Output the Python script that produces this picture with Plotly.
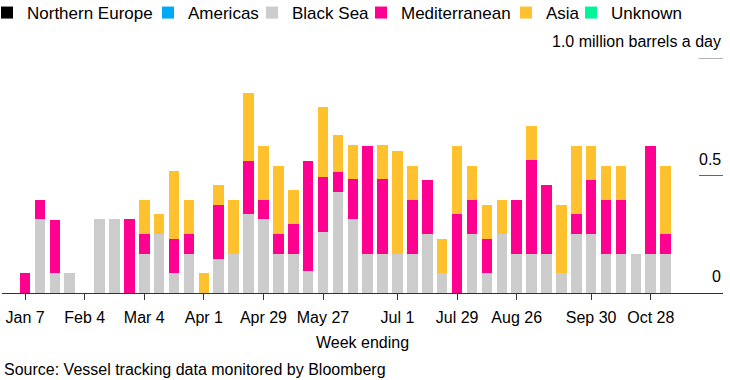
import plotly.graph_objects as go

weeks = ["Jan 7", "Jan 14", "Jan 21", "Jan 28", "Feb 4", "Feb 11", "Feb 18", "Feb 25",
         "Mar 4", "Mar 11", "Mar 18", "Mar 25", "Apr 1", "Apr 8", "Apr 15", "Apr 22",
         "Apr 29", "May 6", "May 13", "May 20", "May 27", "Jun 3", "Jun 10", "Jun 17",
         "Jun 24", "Jul 1", "Jul 8", "Jul 15", "Jul 22", "Jul 29", "Aug 5", "Aug 12",
         "Aug 19", "Aug 26", "Sep 2", "Sep 9", "Sep 16", "Sep 23", "Sep 30", "Oct 7",
         "Oct 14", "Oct 21", "Oct 28", "Nov 4"]

northern_europe = [0] * len(weeks)
americas = [0] * len(weeks)
black_sea = [0, 0.315, 0.084, 0.084, 0, 0.315, 0.315, 0, 0.165, 0.25, 0.084, 0.165, 0, 0.143,
             0.166, 0.335, 0.315, 0.165, 0.165, 0.094, 0.258, 0.43, 0.315, 0.165, 0.165, 0.165,
             0.165, 0.25, 0.084, 0, 0.25, 0.084, 0.25, 0.165, 0.165, 0.165, 0.084, 0.25, 0.25,
             0.165, 0.165, 0.165, 0.165, 0.165]
mediterranean = [0.085, 0.082, 0.226, 0, 0, 0, 0, 0.315, 0.084, 0, 0.145, 0.084, 0, 0.231,
                 0, 0.226, 0.079, 0.084, 0.129, 0.467, 0.235, 0.084, 0.170, 0.461, 0.321, 0,
                 0.230, 0.231, 0, 0.335, 0.145, 0.145, 0, 0.231, 0.401, 0.295, 0, 0.085, 0.231,
                 0.231, 0.231, 0, 0.461, 0.085]
asia = [0, 0, 0, 0, 0, 0, 0, 0, 0.148, 0.085, 0.292, 0.148, 0.084, 0.087, 0.230, 0.291, 0.230,
        0.292, 0.146, 0, 0.298, 0.157, 0.145, 0, 0.145, 0.440, 0.146, 0, 0.145, 0.289, 0.146,
        0.146, 0.146, 0, 0.146, 0, 0.291, 0.291, 0.145, 0.145, 0.145, 0, 0, 0.291]
unknown = [0] * len(weeks)

series_names = ["Northern Europe", "Americas", "Black Sea", "Mediterranean", "Asia", "Unknown"]
series_values = [northern_europe, americas, black_sea, mediterranean, asia, unknown]
series_colors = ["#000000", "#00a9f4", "#cccccc", "#ff0090", "#ffc12e", "#00f59b"]

tick_weeks = ["Jan 7", "Feb 4", "Mar 4", "Apr 1", "Apr 29", "May 27", "Jul 1", "Jul 29",
              "Aug 26", "Sep 30", "Oct 28"]
y_ticks = [0, 0.5, 1.0]
y_tick_text = ["0", "0.5", "1.0 million barrels a day"]

# layout constants (pixels)
W, H = 730, 380
ML, MR, MT, MB = 2, 7, 58, 87
plot_w = W - ML - MR
plot_h = H - MT - MB
legend_text_px = [22, 183, 287, 396, 541, 606]

FONT = "Liberation Sans, Arial, sans-serif"

fig = go.Figure()
for i, (name, vals, col) in enumerate(zip(series_names, series_values, series_colors)):
    lg = "legend" if i == 0 else f"legend{i + 1}"
    fig.add_trace(go.Bar(x=weeks, y=vals, name=name, marker_color=col,
                         marker_line_width=0, legend=lg))

legend_y = (plot_h + MT - 13) / plot_h
layout_legends = {}
for i, tx in enumerate(legend_text_px):
    key = "legend" if i == 0 else f"legend{i + 1}"
    layout_legends[key] = dict(
        x=(tx - 35 - ML) / plot_w, xanchor="left", y=legend_y, yanchor="middle",
        orientation="h", bgcolor="rgba(0,0,0,0)", borderwidth=0,
        font=dict(family=FONT, size=17, color="#000000"), traceorder="normal")

fig.update_layout(
    width=W, height=H,
    margin=dict(l=ML, r=MR, t=MT, b=MB, pad=0, autoexpand=False),
    paper_bgcolor="white", plot_bgcolor="white",
    barmode="stack", bargap=0.29,
    font=dict(family=FONT, size=16, color="#000000"),
    showlegend=True,
    **layout_legends,
)

fig.update_xaxes(
    type="category", categoryorder="array", categoryarray=weeks,
    range=[-1.55, len(weeks) + 2.85],
    tickmode="array", tickvals=tick_weeks, ticktext=tick_weeks,
    ticks="outside", ticklen=6, tickwidth=1, tickcolor="#333333",
    ticklabelstandoff=4,
    showline=True, linecolor="#333333", linewidth=1,
    showgrid=False, zeroline=False,
    tickfont=dict(family=FONT, size=16, color="#000000"),
    title=dict(text="Week ending", font=dict(family=FONT, size=16, color="#000000"), standoff=11),
)
fig.update_yaxes(range=[0, 1.0], showgrid=False, zeroline=False, showticklabels=False,
                 ticks="", showline=False, fixedrange=True)

for v, t in zip(y_ticks, y_tick_text):
    fig.add_annotation(x=1, xref="paper", y=v, yref="y", text=t, showarrow=False,
                       xanchor="right", yanchor="middle", yshift=16.5,
                       font=dict(family=FONT, size=16, color="#000000"))
    if v > 0:
        fig.add_shape(type="line", xref="paper", yref="y", x0=(699 - ML) / plot_w, x1=1,
                      y0=v, y1=v, line=dict(color="#666666", width=1))

fig.add_annotation(x=0, xref="paper", y=(MT + plot_h - 369) / plot_h, yref="paper",
                   text="Source: Vessel tracking data monitored by Bloomberg", showarrow=False,
                   xanchor="left", yanchor="middle",
                   font=dict(family=FONT, size=16, color="#000000"))

fig.write_html("out.html", config={"displayModeBar": False},
               post_script="document.body.style.margin='0';document.body.style.overflow='hidden';")
